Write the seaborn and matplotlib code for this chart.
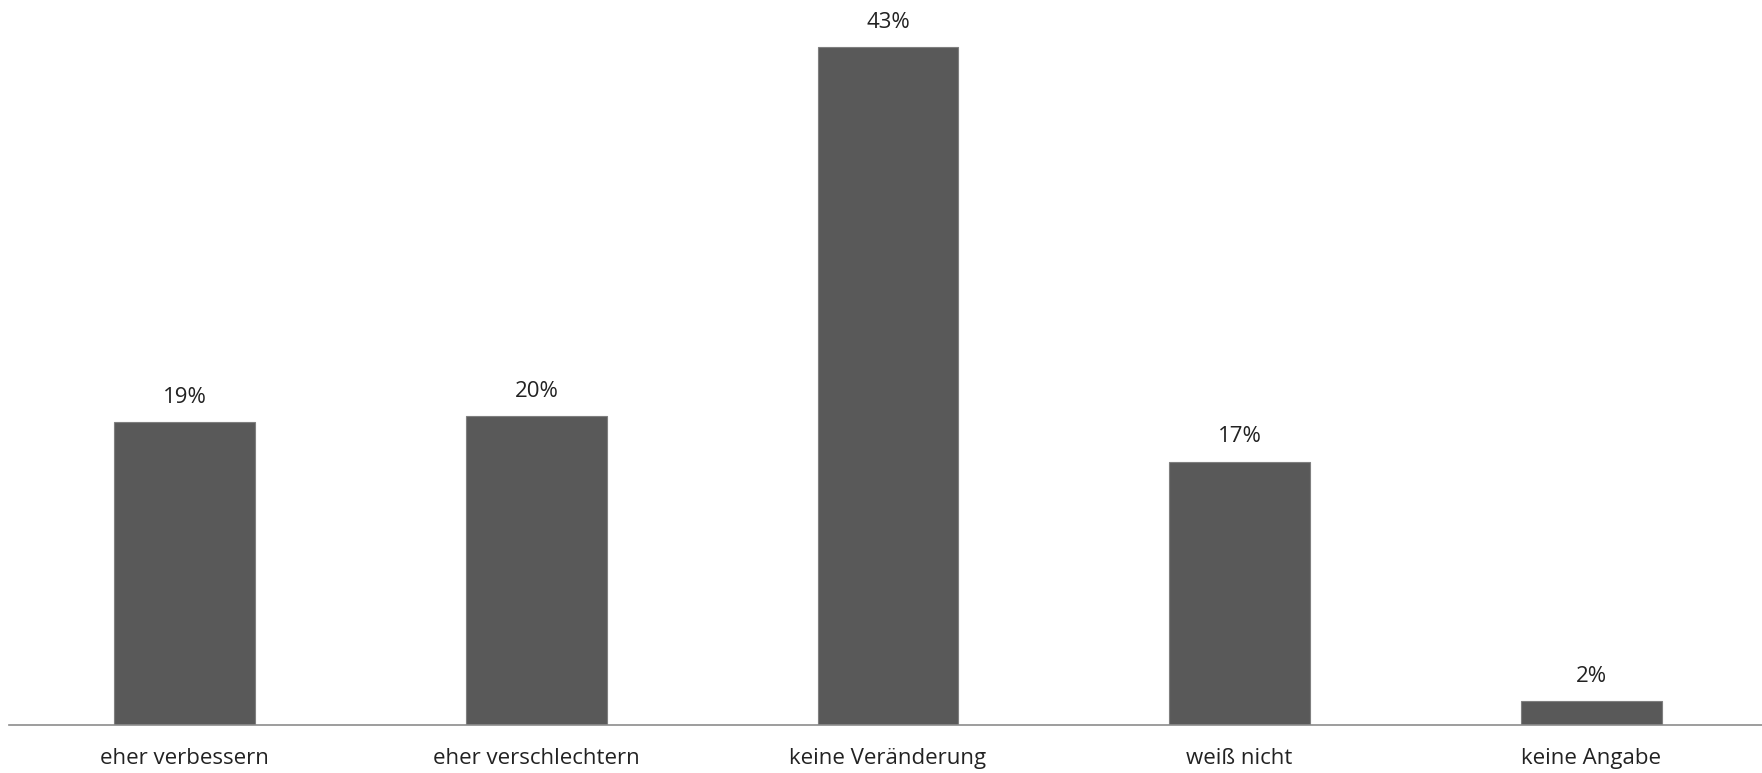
import matplotlib
matplotlib.use("Agg")
import matplotlib.pyplot as plt
import seaborn as sns
import pandas as pd

categories = ["eher verbessern", "eher verschlechtern", "keine Veränderung", "weiß nicht", "keine Angabe"]
values = [19.2, 19.6, 43.0, 16.7, 1.5]
labels = ["19%", "20%", "43%", "17%", "2%"]

sns.set_style("white")
plt.rcParams['font.family'] = ['Open Sans', 'DejaVu Sans']

df = pd.DataFrame({"cat": categories, "val": values})

fig = plt.figure(figsize=(17.62, 7.73), dpi=100)
ax = fig.add_axes([9/1762, 48/773, 1758/1762, 725/773])
sns.barplot(data=df, x="cat", y="val", ax=ax, color="#595959", width=0.4,
            saturation=1, edgecolor="#7f7f7f", linewidth=0.8)
ax.set_xlim(-0.5, 4.5)
ax.set_ylim(0, 46.0)
for i, (v, lab) in enumerate(zip(values, labels)):
    ax.annotate(lab, (i, v), xytext=(0, 10.5), textcoords="offset points",
                ha="center", va="bottom", fontsize=16, color="#222222")
ax.set_xlabel("")
ax.set_ylabel("")
ax.set_yticks([])
ax.tick_params(axis="x", length=0, pad=16.5, labelsize=16, labelcolor="#222222")
for s in ["top", "left", "right"]:
    ax.spines[s].set_visible(False)
ax.spines["bottom"].set_color("#8c8c8c")
ax.spines["bottom"].set_linewidth(1.2)
fig.savefig("out.png", dpi=100)
